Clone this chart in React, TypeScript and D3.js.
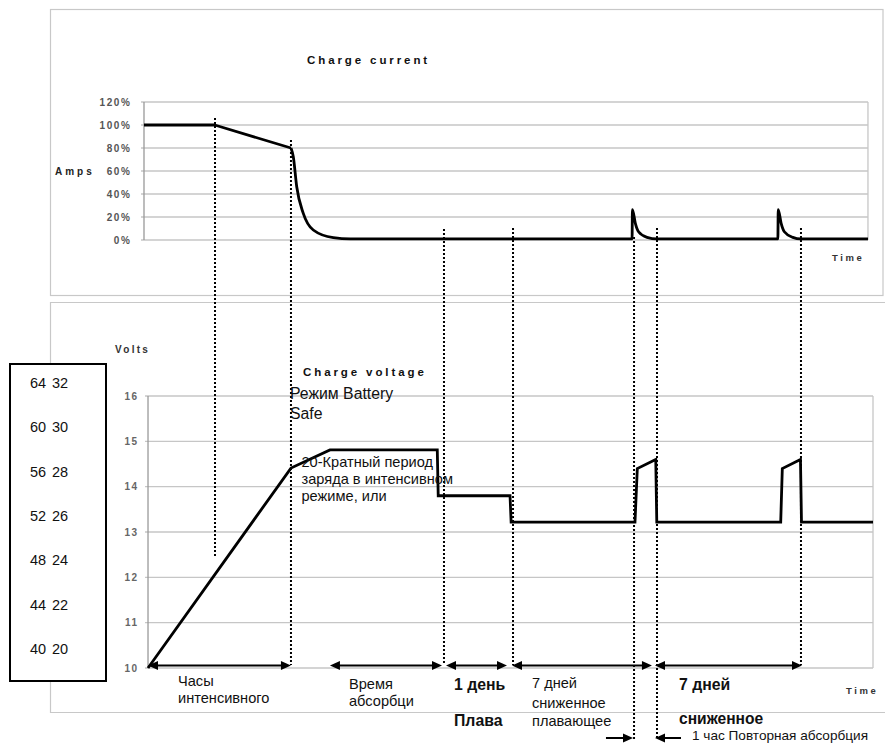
import React from 'react';
import * as d3 from 'd3';

// ---------- data (time axis in arbitrary units 0..100) ----------
const currentT = [0, 9.7, 20.16, 20.48, 20.95, 21.85, 23.22, 25.97, 28.3, 66.95, 67.0, 67.4, 67.84, 69.0, 70.36, 86.95, 87.0, 87.4, 87.84, 89.0, 90.1, 99.31];
const currentPct = [100, 100, 80, 72.4, 46.3, 23.2, 8.7, 2.0, 0.9, 0.9, 26.5, 14.5, 7.2, 2.3, 0.9, 0.9, 26.5, 14.5, 7.2, 2.3, 0.9, 0.9];
// number of leading points joined by straight segments (bulk phase)
const currentLinearCount = 3;

const voltT = [0.55, 20.16, 25.51, 40.23, 40.36, 50.21, 50.36, 67.35, 67.67, 70.2, 70.34, 87.34, 87.56, 90.05, 90.19, 100];
const voltV = [10.0, 14.41, 14.81, 14.81, 13.8, 13.8, 13.22, 13.22, 14.4, 14.6, 13.22, 13.22, 14.4, 14.6, 13.22, 13.22];

const currentTicks = [0, 20, 40, 60, 80, 100, 120];
const voltTicks = [10, 11, 12, 13, 14, 15, 16];

const box48 = [64, 60, 56, 52, 48, 44, 40];
const box24 = [32, 30, 28, 26, 24, 22, 20];

const markerT = [9.74, 20.16, 41.15, 50.62, 67.22, 70.37, 90.12];
const spanStart = [0.55, 25.51, 41.43, 50.48, 70.1];
const spanEnd = [20.16, 40.88, 49.79, 69.68, 90.26];
const pointerFrom = [63.37, 73.66];
const pointerTo = [67.08, 70.1];

// ---------- layout ----------
const W = 885;
const H = 743;
const FONT = "'Liberation Sans', Arial, Helvetica, sans-serif";
const markerY1 = [118, 140, 229, 228, 237, 228, 228];
const markerY2 = [557, 665, 665, 665, 740, 740, 665];

export default function App() {
  const x = d3.scaleLinear().domain([0, 100]).range([144, 873]);
  const yCur = d3.scaleLinear().domain([0, 120]).range([240, 102]);
  const yVolt = d3.scaleLinear().domain([10, 16]).range([668, 396]);
  const yBox = d3.scaleLinear().domain([64, 40]).range([388, 654]);

  const topLeft = x(0);
  const topRight = x(99.31);
  const botLeft = x(0.55);
  const botRight = x(100);

  const idx = currentT.map((_, i) => i);
  const curLinear = d3
    .line<number>()
    .x((i) => x(currentT[i]))
    .y((i) => yCur(currentPct[i]))(idx.slice(0, currentLinearCount)) as string;
  const curSmooth = d3
    .line<number>()
    .x((i) => x(currentT[i]))
    .y((i) => yCur(currentPct[i]))
    .curve(d3.curveMonotoneX)(idx.slice(currentLinearCount - 1)) as string;

  const voltLine = d3
    .line<number>()
    .x((_, i) => x(voltT[i]))
    .y((d) => yVolt(d))(voltV) as string;

  const arrowY = 665.5;
  const ptrY = 738;
  const head = (tipX: number, y: number, dir: number) => {
    const L = 10;
    const hw = 4.5;
    return `M${tipX},${y}L${tipX - dir * L},${y - hw}L${tipX - dir * L},${y + hw}Z`;
  };

  const grid = '#c6c6c6';
  const tickFill = '#555';

  return (
    <svg
      width={W}
      height={H}
      viewBox={`0 0 ${W} ${H}`}
      style={{ position: 'absolute', left: 0, top: 0, background: '#fff' }}
      fontFamily={FONT}
    >
      <rect x={0} y={0} width={W} height={H} fill="#fff" />

      {/* panel frames */}
      <rect x={50.5} y={9.5} width={832.5} height={286} fill="none" stroke="#c8c8c8" strokeWidth={1.2} />
      <path d={`M${W + 5},302.5H50.5V712.5H${W + 5}`} fill="none" stroke="#c8c8c8" strokeWidth={1.2} />

      {/* ---------- top chart ---------- */}
      <text x={307} y={64} fontSize={11.5} fontWeight="bold" letterSpacing={2.9} fill="#111">
        Charge current
      </text>
      {currentTicks.map((t) => (
        <g key={'ct' + t}>
          <line x1={topLeft - 3} x2={topRight} y1={yCur(t)} y2={yCur(t)} stroke={grid} strokeWidth={1.3} />
          <text
            x={131.5}
            y={yCur(t) + 3.6}
            textAnchor="end"
            fontSize={10}
            fontWeight="bold"
            letterSpacing={1.6}
            fill={tickFill}
          >
            {t + '%'}
          </text>
        </g>
      ))}
      <line x1={topLeft} x2={topLeft} y1={yCur(120)} y2={yCur(0)} stroke="#999" strokeWidth={1.3} />
      <line x1={topRight} x2={topRight} y1={yCur(120)} y2={yCur(0)} stroke={grid} strokeWidth={1.3} />
      <text x={55} y={174.5} fontSize={10} fontWeight="bold" letterSpacing={3} fill="#222">
        Amps
      </text>
      <text x={832} y={261} fontSize={9.5} fontWeight="bold" letterSpacing={2.6} fill="#333">
        Time
      </text>
      <path d={curLinear} fill="none" stroke="#000" strokeWidth={2.8} strokeLinejoin="round" />
      <path d={curSmooth} fill="none" stroke="#000" strokeWidth={2.8} strokeLinejoin="round" />

      {/* ---------- bottom chart ---------- */}
      <text x={115} y={353} fontSize={10} fontWeight="bold" letterSpacing={2.3} fill="#333">
        Volts
      </text>
      <text x={303} y={376} fontSize={11.5} fontWeight="bold" letterSpacing={2.9} fill="#111">
        Charge voltage
      </text>
      {voltTicks.map((v) => (
        <g key={'vt' + v}>
          <line x1={botLeft - 3} x2={botRight} y1={yVolt(v)} y2={yVolt(v)} stroke={grid} strokeWidth={1.3} />
          <text
            x={138.5}
            y={yVolt(v) + 3.6}
            textAnchor="end"
            fontSize={10}
            fontWeight="bold"
            letterSpacing={1.5}
            fill="#666"
          >
            {v}
          </text>
        </g>
      ))}
      <line x1={botLeft} x2={botLeft} y1={yVolt(16)} y2={yVolt(10)} stroke="#999" strokeWidth={1.3} />
      <line x1={botRight} x2={botRight} y1={yVolt(16)} y2={yVolt(10)} stroke={grid} strokeWidth={1.3} />
      <text x={846} y={694} fontSize={9.5} fontWeight="bold" letterSpacing={2.6} fill="#333">
        Time
      </text>
      <path d={voltLine} fill="none" stroke="#000" strokeWidth={2.8} strokeLinejoin="miter" />

      {/* left box with 48V / 24V equivalents */}
      <rect x={10} y={364} width={96} height={317} fill="#fff" stroke="#000" strokeWidth={2} />
      {box48.map((v, i) => (
        <g key={'bx' + v}>
          <text x={30} y={yBox(v)} fontSize={14.5} fill="#111">
            {v}
          </text>
          <text x={52} y={yBox(v)} fontSize={14.5} fill="#111">
            {box24[i]}
          </text>
        </g>
      ))}

      {/* dotted markers */}
      {markerT.map((t, i) => (
        <line
          key={'m' + i}
          x1={x(t)}
          x2={x(t)}
          y1={markerY1[i]}
          y2={markerY2[i]}
          stroke="#000"
          strokeWidth={2}
          strokeDasharray="2 2"
        />
      ))}

      {/* span arrows */}
      {spanStart.map((s, i) => (
        <g key={'sp' + i}>
          <line x1={x(s) + 4} x2={x(spanEnd[i]) - 4} y1={arrowY} y2={arrowY} stroke="#000" strokeWidth={2} />
          <path d={head(x(s), arrowY, -1)} fill="#000" />
          <path d={head(x(spanEnd[i]), arrowY, 1)} fill="#000" />
        </g>
      ))}
      {pointerFrom.map((f, i) => {
        const dir = pointerTo[i] > f ? 1 : -1;
        return (
          <g key={'pt' + i}>
            <line x1={x(f)} x2={x(pointerTo[i]) - dir * 4} y1={ptrY} y2={ptrY} stroke="#000" strokeWidth={2} />
            <path d={head(x(pointerTo[i]), ptrY, dir)} fill="#000" />
          </g>
        );
      })}

      {/* annotations */}
      <g fontSize={14.6} fill="#111">
        <text x={290} y={399} fontSize={15.8}>Режим Battery</text>
        <text x={290} y={419} fontSize={15.8}>Safe</text>
        <text x={301.5} y={467}>20-Кратный период</text>
        <text x={301.5} y={484}>заряда в интенсивном</text>
        <text x={301.5} y={501}>режиме, или</text>

        <text x={178} y={686}>Часы</text>
        <text x={178} y={702.5}>интенсивного</text>
        <text x={349} y={689}>Время</text>
        <text x={349} y={705.5}>абсорбци</text>
        <text x={454} y={690} fontWeight="bold" fontSize={15.8}>1 день</text>
        <text x={454} y={725.5} fontWeight="bold" fontSize={15.8}>Плава</text>
        <text x={532} y={688}>7 дней</text>
        <text x={532} y={707.5}>сниженное</text>
        <text x={532} y={726}>плавающее</text>
        <text x={679} y={690} fontWeight="bold" fontSize={15.8}>7 дней</text>
        <text x={679} y={724} fontWeight="bold" fontSize={15.6}>сниженное</text>
        <text x={692} y={740.3} fontSize={13.6}>1 час Повторная абсорбция</text>
      </g>
    </svg>
  );
}
